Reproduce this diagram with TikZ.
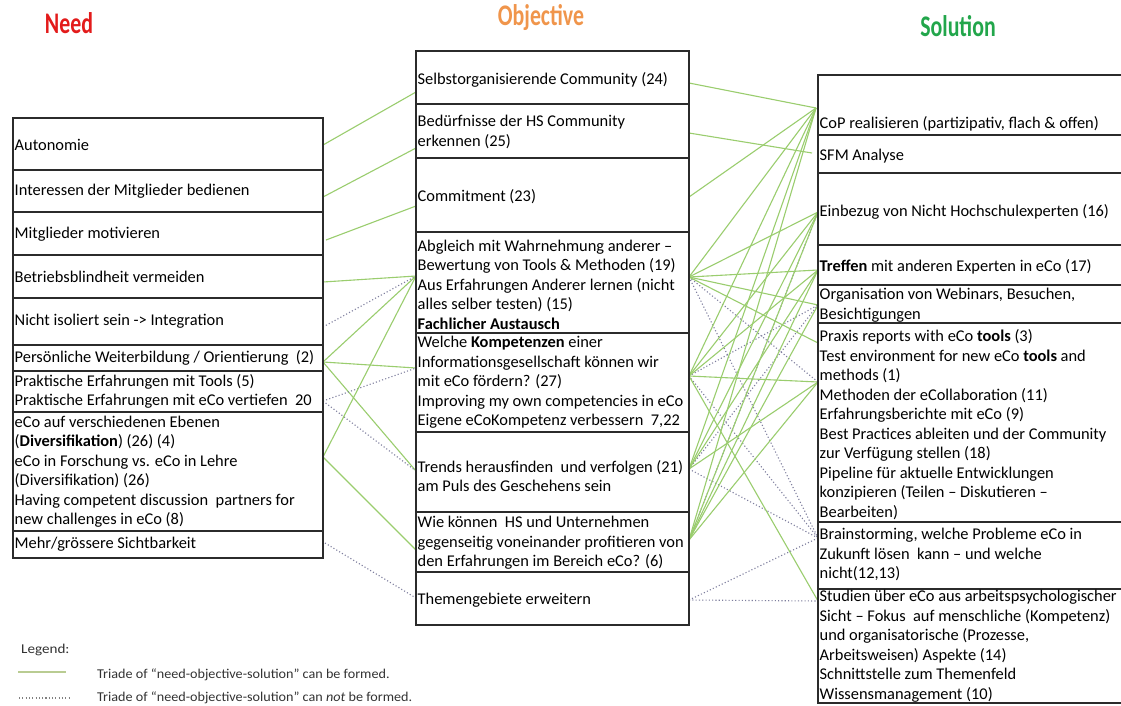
\documentclass[tikz,border=0pt]{standalone}
\usepackage{fontspec}
\setmainfont{Carlito}
\usetikzlibrary{calc}

\definecolor{linkgreen}{HTML}{9ACD6E}
\definecolor{linkgray}{HTML}{7E7E9E}
\definecolor{needred}{HTML}{E31B1B}
\definecolor{objorange}{HTML}{F0954B}
\definecolor{solgreen}{HTML}{22A64B}
\definecolor{framegray}{HTML}{2B2B2B}
\definecolor{legendgreen}{HTML}{B9CC92}

\tikzset{
  cellbox/.style={draw=framegray, line width=1.1pt, rectangle, inner sep=0pt, outer sep=0pt, anchor=north west},
  celltext/.style={anchor=west, align=left, inner xsep=1.5pt, inner ysep=0pt, font=\fontsize{16.4}{19.5}\selectfont},
  yes/.style={draw=linkgreen, line width=1.1pt},
  no/.style={draw=linkgray, line width=1.1pt, dash pattern=on 1.1pt off 2.2pt},
  heading/.style={font=\fontsize{23}{26}\selectfont\bfseries},
  legendtext/.style={anchor=west, inner sep=0pt, font=\fontsize{13.5}{15}\selectfont, text=black!80},
}

% name, left x, top y, width, height, text shift, text
\newcommand{\rowcell}[7]{%
  \node[cellbox, minimum width=#4pt, minimum height=#5pt] (#1) at (#2,#3) {};
  \node[celltext] (#1-t) at ($(#1.west)+(0,#6)$) {#7};}
\newcommand{\widelegend}[2]{\scalebox{#1}[1]{#2}}
\newcommand{\tallhead}[1]{\scalebox{0.95}[1.3]{#1}}

\begin{document}
\begin{tikzpicture}[x=1pt,y=-1pt]
\useasboundingbox (0,0) rectangle (1121,705);
\clip (0,0) rectangle (1121,705);
\fill[white] (0,0) rectangle (1121,705);

% column headings
\node[heading, text=needred] (hneed) at (69,23) {\tallhead{Need}};
\node[heading, text=objorange] (hobj) at (541,18) {\tallhead{Objective}};
\node[heading, text=solgreen] (hsol) at (958,26) {\tallhead{Solution}};

% connection end points
\coordinate (nAuto) at (323,145);
\coordinate (nInt) at (323,197);
\coordinate (nMit) at (326,240);
\coordinate (nBet) at (323,282);
\coordinate (nNicht) at (323,327);
\coordinate (nPers) at (323,362);
\coordinate (nPrak) at (323,401);
\coordinate (nECo) at (323,457);
\coordinate (nMehr) at (325,543);

\coordinate (oSelL) at (416,92);
\coordinate (oBedL) at (416,148);
\coordinate (oComL) at (416,206);
\coordinate (oAbgL) at (416,276);
\coordinate (oWelL) at (416,368);
\coordinate (oTreL) at (416,471);
\coordinate (oWieL) at (416,550);
\coordinate (oThemL) at (416,598);

\coordinate (oSelR) at (689,83);
\coordinate (oBedR) at (689,133);
\coordinate (oComR) at (689,197);
\coordinate (oAbgR) at (689,277);
\coordinate (oWelR) at (689,376);
\coordinate (oTreR) at (689,469);
\coordinate (oWieR) at (689,540);
\coordinate (oThemR) at (689,600);

\coordinate (sCoP) at (816,108);
\coordinate (sSFM) at (812,153);
\coordinate (sEin) at (818,212);
\coordinate (sTref) at (818,270);
\coordinate (sOrg) at (818,305);
\coordinate (sPraxA) at (818,343);
\coordinate (sPrax) at (818,382);
\coordinate (sBrain) at (818,538);
\coordinate (sStud) at (818,601);

% need -> objective
\draw[yes] (nAuto) -- (oSelL);
\draw[yes] (nInt) -- (oBedL);
\draw[yes] (nMit) -- (oComL);
\draw[yes] (nBet) -- (oAbgL);
\draw[no]  (nNicht) -- (oAbgL);
\draw[yes] (nPers) -- (oAbgL);
\draw[yes] (nPers) -- (oWelL);
\draw[yes] (nPers) -- (oTreL);
\draw[no]  (nPrak) -- (oWelL);
\draw[no]  (nPrak) -- (oTreL);
\draw[yes] (nECo) -- (oAbgL);
\draw[yes] (nECo) -- (oWieL);
\draw[no]  (nMehr) -- (oThemL);

% objective -> solution
\draw[no] (oAbgR) -- (sBrain);
\draw[no] (oAbgR) -- (sPrax);
\draw[no] (oWelR) -- (sBrain);
\draw[no] (oWelR) -- (sOrg);
\draw[no] (oTreR) -- (sBrain);
\draw[no] (oTreR) -- (sOrg);
\draw[no] (oWieR) -- (sEin);
\draw[no] (oThemR) -- (sBrain);
\draw[no] (oThemR) -- (sStud);

\draw[yes] (oSelR) -- (sCoP);
\draw[yes] (oBedR) -- (sSFM);
\draw[yes] (oComR) -- (sCoP);
\foreach \s in {sCoP,sEin,sTref,sOrg,sPraxA} \draw[yes] (oAbgR) -- (\s);
\foreach \s in {sCoP,sEin,sTref,sPrax,sStud} \draw[yes] (oWelR) -- (\s);
\foreach \s in {sCoP,sEin,sTref,sPrax} \draw[yes] (oTreR) -- (\s);
\foreach \s in {sCoP,sEin,sTref,sOrg,sPrax} \draw[yes] (oWieR) -- (\s);

% need column
\rowcell{n1}{13}{118}{310}{52}{1}{Autonomie}
\rowcell{n2}{13}{170}{310}{42}{0}{Interessen der Mitglieder bedienen}
\rowcell{n3}{13}{212}{310}{43}{1}{Mitglieder motivieren}
\rowcell{n4}{13}{255}{310}{43}{0}{Betriebsblindheit vermeiden}
\rowcell{n5}{13}{298}{310}{47}{0}{Nicht isoliert sein -> Integration}
\rowcell{n6}{13}{345}{310}{26}{0}{Persönliche Weiterbildung / Orientierung~~(2)}
\rowcell{n7}{13}{371}{310}{41}{0}{Praktische Erfahrungen mit Tools (5)\\Praktische Erfahrungen mit eCo vertiefen~~20}
\rowcell{n8}{13}{412}{310}{119}{0}{eCo auf verschiedenen Ebenen\\(\textbf{Diversifikation}) (26) (4)\\eCo in Forschung vs. eCo in Lehre\\(Diversifikation) (26)\\Having competent discussion~~partners for\\new challenges in eCo (8)}
\rowcell{n9}{13}{531}{310}{27}{0}{Mehr/grössere Sichtbarkeit}

% objective column
\rowcell{o1}{416}{51}{273}{53}{2}{Selbstorganisierende Community (24)}
\rowcell{o2}{416}{104}{273}{54}{1}{Bedürfnisse der HS Community\\erkennen (25)}
\rowcell{o3}{416}{158}{273}{74}{2}{Commitment (23)}
\rowcell{o4}{416}{232}{273}{101}{2}{Abgleich mit Wahrnehmung anderer --\\Bewertung von Tools \& Methoden (19)\\Aus Erfahrungen Anderer lernen (nicht\\alles selber testen) (15)\\\textbf{Fachlicher Austausch}}
\rowcell{o5}{416}{333}{273}{99}{0}{Welche \textbf{Kompetenzen} einer\\Informationsgesellschaft können wir\\mit eCo fördern? (27)\\Improving my own competencies in eCo\\Eigene eCoKompetenz verbessern~~7,22}
\rowcell{o6}{416}{432}{273}{80}{4}{Trends herausfinden~ und verfolgen (21)\\am Puls des Geschehens sein}
\rowcell{o7}{416}{512}{273}{60}{1}{Wie können~ HS und Unternehmen\\gegenseitig voneinander profitieren von\\den Erfahrungen im Bereich eCo? (6)}
\rowcell{o8}{416}{572}{273}{53}{2}{Themengebiete erweitern}

% solution column
\rowcell{s1}{818}{75}{320}{60}{19}{CoP realisieren (partizipativ, flach \& offen)}
\rowcell{s2}{818}{135}{320}{38}{2}{SFM Analyse}
\rowcell{s3}{818}{173}{320}{72}{3}{Einbezug von Nicht Hochschulexperten (16)}
\rowcell{s4}{818}{245}{320}{40}{2}{\textbf{Treffen} mit anderen Experten in eCo (17)}
\rowcell{s5}{818}{285}{320}{38}{1}{Organisation von Webinars, Besuchen,\\Besichtigungen}
\rowcell{s6}{818}{323}{320}{199}{2}{Praxis reports with eCo \textbf{tools} (3)\\Test environment for new eCo \textbf{tools} and\\methods (1)\\Methoden der eCollaboration (11)\\Erfahrungsberichte mit eCo (9)\\Best Practices ableiten und der Community\\zur Verfügung stellen (18)\\Pipeline für aktuelle Entwicklungen\\konzipieren (Teilen -- Diskutieren --\\Bearbeiten)}
\rowcell{s7}{818}{522}{320}{67}{-1}{Brainstorming, welche Probleme eCo in\\Zukunft lösen~ kann -- und welche\\nicht(12,13)}
\rowcell{s8}{818}{589}{320}{114}{0}{Studien über eCo aus arbeitspsychologischer\\Sicht -- Fokus~ auf menschliche (Kompetenz)\\und organisatorische (Prozesse,\\Arbeitsweisen) Aspekte (14)\\Schnittstelle zum Themenfeld\\Wissensmanagement (10)}

% legend
\node[legendtext] (lghead) at (21,650) {\widelegend{1.12}{Legend:}};
\coordinate (lgA1) at (18,672);
\coordinate (lgA2) at (66,672);
\draw[draw=legendgreen, line width=1.1pt] (lgA1) -- (lgA2);
\node[legendtext] (lgT1) at (97,675) {\widelegend{1.05}{Triade of “need-objective-solution” can be formed.}};
\coordinate (lgB1) at (19,698);
\coordinate (lgB2) at (70,698);
\draw[no, draw=gray] (lgB1) -- (lgB2);
\node[legendtext] (lgT2) at (97,698) {\widelegend{1.05}{Triade of “need-objective-solution” can \textit{not} be formed.}};
\end{tikzpicture}
\end{document}
